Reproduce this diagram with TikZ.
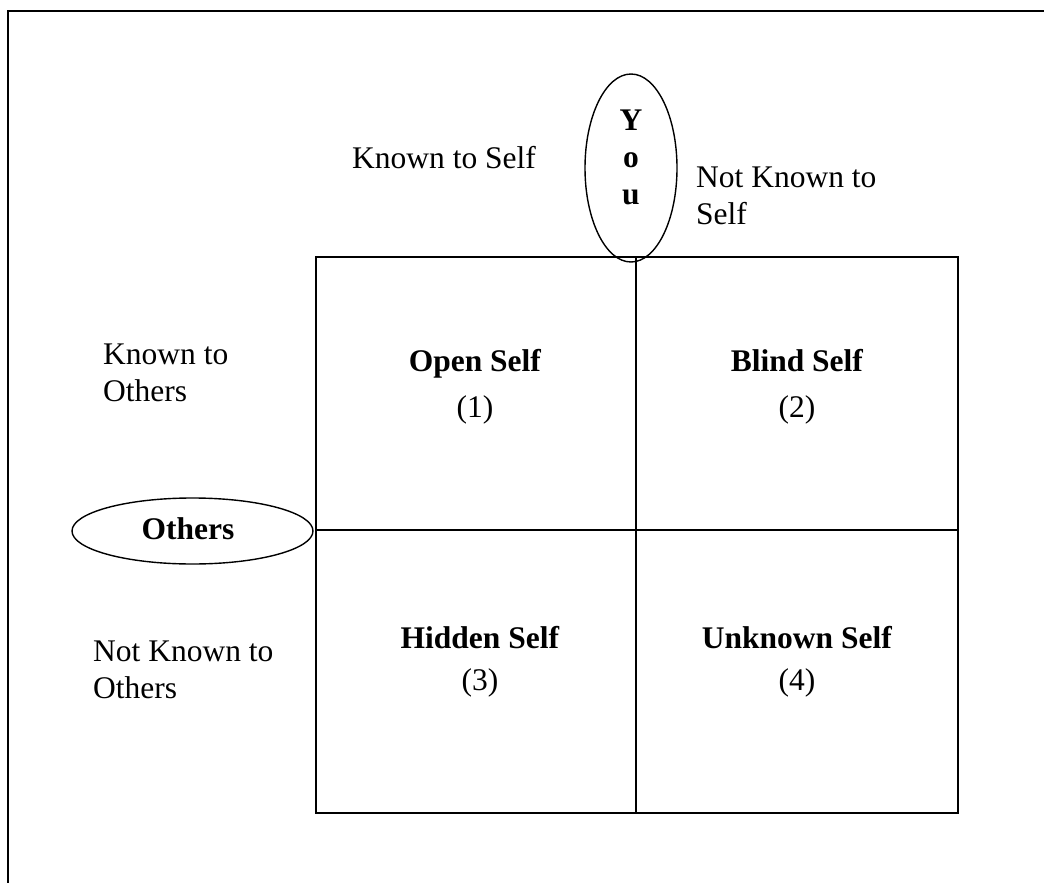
\documentclass[tikz,border=0pt]{standalone}
\usepackage{fontspec}
\setmainfont{Liberation Serif}
\usetikzlibrary{shapes.geometric}
\begin{document}
\begin{tikzpicture}[x=1pt,y=-1pt,
  txt/.style={inner sep=0pt,font=\fontsize{31.5}{36.5}\selectfont},
  lbl/.style={txt,align=left,anchor=base west},
  cell/.style={txt,align=center,anchor=base},
  grid/.style={line width=1.6pt},
  oval/.style={draw,ellipse,line width=1.4pt,inner sep=0pt}]
  \useasboundingbox (0,0) rectangle (1044,883);
  % page frame (top and left edges)
  \draw[line width=2pt] (8,883) -- (8,11) -- (1044,11);

  % the four window panes
  \coordinate (tl) at (316,257);
  \coordinate (br) at (958,813);
  \coordinate (tm) at (636,257);
  \coordinate (bm) at (636,813);
  \coordinate (lm) at (316,530);
  \coordinate (rm) at (958,530);
  \draw[grid] (tl) rectangle (br);
  \draw[grid] (tm) -- (bm);
  \draw[grid] (lm) -- (rm);

  % ovals (multi-line nodes: base anchor sits on the last line)
  \node[oval,minimum width=92pt,minimum height=188pt] (you) at (631,168) {};
  \node[txt,align=center,font=\fontsize{31.5}{37}\selectfont\bfseries,anchor=base] (youtxt) at (631,204) {Y\\o\\u};
  \node[oval,minimum width=241pt,minimum height=66pt] (others) at (192.5,531) {};
  \node[txt,font=\fontsize{31.5}{36.5}\selectfont\bfseries,anchor=base] (otherstxt) at (188,539) {Others};

  % axis labels
  \node[lbl] (kself) at (352,168) {Known to Self};
  \node[lbl] (nkself) at (696,224) {Not Known to\\Self};
  \node[lbl] (kothers) at (103,401) {Known to\\Others};
  \node[lbl] (nkothers) at (93,698) {Not Known to\\Others};

  % pane titles
  \node[cell] (open) at (475,417) {\textbf{Open Self}\\[9pt](1)};
  \node[cell] (blind) at (797,417) {\textbf{Blind Self}\\[9pt](2)};
  \node[cell] (hidden) at (480,690) {\textbf{Hidden Self}\\[5pt](3)};
  \node[cell] (unknown) at (797,690) {\textbf{Unknown Self}\\[5pt](4)};
\end{tikzpicture}
\end{document}
